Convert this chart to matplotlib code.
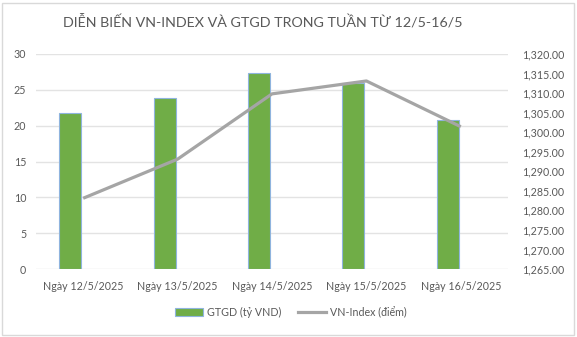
import matplotlib
matplotlib.use("Agg")
import matplotlib.pyplot as plt
import numpy as np
from matplotlib.patches import Rectangle
from matplotlib.lines import Line2D
from matplotlib.patches import Patch

categories = ["Ngày 12/5/2025", "Ngày 13/5/2025", "Ngày 14/5/2025",
              "Ngày 15/5/2025", "Ngày 16/5/2025"]
gtgd = [21.7, 23.9, 27.4, 26.0, 20.8]
vnindex = [1283.1, 1293.1, 1309.8, 1313.1, 1301.4]
left_ticks = [0, 5, 10, 15, 20, 25, 30]
right_ticks = [1265, 1270, 1275, 1280, 1285, 1290, 1295, 1300, 1305, 1310, 1315, 1320]

plt.rcParams['font.family'] = ['Lato', 'DejaVu Sans']
text_color = "#595959"
fs = 7.7

W, H = 577, 337
fig = plt.figure(figsize=(W / 100, H / 100), dpi=100)
ax = fig.add_axes([36 / W, (H - 269) / H, (508 - 36) / W, (269 - 54) / H])
ax2 = ax.twinx()

x = np.arange(len(categories))
ax.bar(x - 0.137, gtgd, width=0.233, color="#70ad47", edgecolor="#8fb4de",
       linewidth=0.8, zorder=3)
ax.set_xlim(-0.5, len(categories) - 0.5)
ax.set_ylim(0, 30)
ax.set_yticks(left_ticks)
ax.grid(axis="y", color="#e3e3e3", linewidth=1.0, zorder=0)
ax.set_axisbelow(True)

ax2.plot(x, vnindex, color="#a5a5a5", linewidth=2.3, solid_capstyle="butt", zorder=4)
ax2.set_ylim(1265, 1320)
ax2.set_yticks(right_ticks)
ax2.set_yticklabels([f"{v:,.2f}" for v in right_ticks])

for a in (ax, ax2):
    for s in a.spines.values():
        s.set_visible(False)
    a.tick_params(length=0, labelsize=fs, labelcolor=text_color)
ax.tick_params(axis="y", pad=7)
ax2.tick_params(axis="y", pad=10)
ax.set_xticks(x)
ax.set_xticklabels(categories)
ax.tick_params(axis="x", pad=9)

fig.text(263 / W, 1 - 22 / H, "DIỄN BIẾN VN-INDEX VÀ GTGD TRONG TUẦN TỪ 12/5-16/5",
         ha="center", va="center", fontsize=10.3, color=text_color)

handles = [Patch(facecolor="#70ad47", edgecolor="#8fb4de", linewidth=0.8),
           Line2D([0], [0], color="#a5a5a5", linewidth=2.3)]
fig.legend(handles, ["GTGD (tỷ VND)", "VN-Index (điểm)"], loc="center",
           bbox_to_anchor=(291 / W, 1 - 312 / H), ncol=2, frameon=False,
           fontsize=fs, labelcolor=text_color, handlelength=2.6,
           handleheight=0.7, columnspacing=1.6, handletextpad=0.4)

fig.patches.append(Rectangle((2 / W, 2 / H), (W - 5) / W, (H - 5) / H,
                             transform=fig.transFigure, fill=False,
                             edgecolor="#d9d9d9", linewidth=1.0))

fig.savefig("out.png", dpi=100)
